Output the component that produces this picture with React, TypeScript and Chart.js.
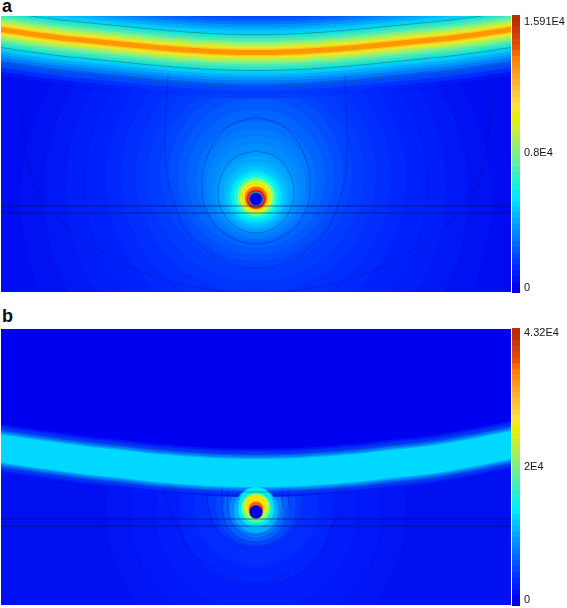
import { useEffect, useRef } from "react";
import { Chart, registerables } from "chart.js";

Chart.register(...registerables);

// Field coordinates: x runs 0..510 across the section, y runs 0..276 downward.
const xMax = 510;
const yMax = 276;

// Shared band sample stations
const bandX = [-10, 30, 60, 90, 120, 150, 180, 210, 240, 270, 300, 330, 360, 390, 420, 450, 480, 520];

// Panel a: high-field band
const bandCenterA = [12, 18, 22, 25, 28, 31, 33.5, 35.5, 36.5, 36.5, 35.5, 33.5, 31, 28, 25, 22, 18, 12];
const bandOffsetsA = [46, 42, 38, 34, 31, 28, 25, 22, 19, 16.5, 14, 11.5, 9.5, 7.5, 5.5, 4, 2.5];
const bandColorsA = ["rgba(0,40,250,0.35)", "rgba(0,56,255,0.7)", "#0048ff", "#0060ff", "#0078ff", "#0094ff", "#00b0ff", "#00ccf8", "#12dfdc", "#2ce4c8", "#50ecae", "#78f090", "#a0f06c", "#c8ee40", "#ecec20", "#ffc820", "#ff9800"];
const bandLineOffsetsA = [-18, 18, 33];

// Panel a: rings around the conductor
const glowRadiusA = [235, 212, 190, 170, 150, 135, 120, 108, 96, 87, 78, 69, 60, 55, 50, 45, 41, 37, 33, 30, 27, 25, 22, 19, 16.5, 14.5, 11.2, 9.5, 7.5, 6.3];
const glowCenterYA = [183, 178, 172, 167, 162, 160, 158, 157, 156, 158, 160, 162, 165, 168, 170, 173, 176, 177, 179, 180, 181, 181, 181, 181, 181, 181, 182, 183, 183, 183];
const glowColorsA = ["#0012f2", "#0018f5", "#001ef8", "#0022fa", "#0028fc", "#002efe", "#0034ff", "#003cff", "#0044ff", "#004eff", "#0058ff", "#0064ff", "#0070ff", "#007aff", "#0084ff", "#008eff", "#0098ff", "#00a6ff", "#00b4ff", "#00c4ff", "#00d4ff", "#00e8f8", "#18fcd8", "#70ff90", "#c0ff40", "#ffe000", "#ff7000", "#e02000", "#3090a0", "#0000e0"];
const glowFrontFromA = 30;

// Panel a: contour lines
const contour1XA = [255, 274, 288, 293, 288, 274, 255, 236, 222, 217, 222, 236, 255];
const contour1YA = [135, 140.5, 155.5, 176, 196.5, 211.5, 217, 211.5, 196.5, 176, 155.5, 140.5, 135];
const contour2XA = [255, 282, 302, 309, 302, 282, 255, 228, 208, 201, 208, 228, 255];
const contour2YA = [101, 110, 136, 172, 200, 220, 228, 220, 200, 172, 136, 110, 101];
const contour3XA = [167, 164, 172, 192, 256, 318, 339, 346, 344];
const contour3YA = [59, 141, 181, 224, 252, 224, 181, 141, 59];
const contour4XA = [21, 21, 29, 49, 99, 149, 199, 255, 311, 361, 411, 461, 481, 489, 489];
const contour4YA = [56, 94, 154, 194, 234, 259, 272, 276, 272, 259, 234, 194, 154, 94, 56];

// Panel b: band
const bandCenterB = [118, 124, 128, 132, 135, 138.5, 141, 143, 144, 144, 143, 141, 138.5, 135, 132, 127.5, 122, 114];
const bandOffsetsB = [24, 22, 19.5, 17.5, 15.5, 14];
const bandColorsB = ["#0018f6", "#0030ff", "#0050ff", "#0078ff", "#00a8ff", "#00d8ff"];
const bandLineOffsetsB = [-19, 19];

// Panel b: rings around the conductor
const glowRadiusB = [150, 125, 100, 77, 62, 48, 40, 33, 27, 22, 21, 18, 17, 15, 13, 10.5, 7.5, 6.7];
const glowCenterYB = [183, 183, 183, 179, 176, 171, 176, 180, 181, 182, 179, 180, 175, 179, 178, 176, 180, 183];
const glowColorsB = ["#0014f4", "#0018f8", "#001cfa", "#0024ff", "#002cff", "#0038ff", "#0048ff", "#0060ff", "#0084ff", "#00b0ff", "#00b0ff", "#00e8f0", "#00e8f0", "#50ff9c", "#b4ff40", "#ffe000", "#ff6000", "#0000e0"];
const glowFrontFromB = 9;

// Panel b: contour lines
const contour1XB = [227, 227, 234, 254, 274, 281, 281];
const contour1YB = [159, 178, 198, 206, 198, 178, 159];
const contour2XB = [221, 221, 230, 254, 278, 287, 287];
const contour2YB = [159, 178, 203, 213, 203, 178, 159];
const contour3XB = [207, 207, 219, 254, 289, 301, 301];
const contour3YB = [161, 178, 204, 218, 204, 178, 161];
const contour4XB = [162, 168, 179, 189, 254, 319, 329, 340, 346];
const contour4YB = [160, 180, 201, 224, 254, 224, 201, 180, 160];

// Horizontal interface lines
const interfaceY = [190, 197];

// Colour bars
const barColors = ["#0000e0", "#0006ea", "#0010f4", "#001cfa", "#0028ff", "#0038ff", "#0048ff", "#0058ff", "#0068ff", "#0078ff", "#0088ff", "#0098ff", "#00a8ff", "#00b8ff", "#00c8ff", "#00d8ff", "#00eaff", "#0cecea", "#18f0d8", "#28f0c8", "#38f0b8", "#4cf0a8", "#60f09a", "#72ef8a", "#84ee7c", "#96ee6a", "#a8ee58", "#baef44", "#ccf030", "#dcf018", "#e8f000", "#f4e820", "#ffe040", "#ffd43c", "#ffc838", "#ffbc34", "#ffb030", "#ffa424", "#ff9818", "#ff8c0c", "#ff8000", "#f46800", "#e85000", "#dc4808", "#d04010", "#c83808", "#c03000", "#bc2e00"];
const barLevelsA = [0, 330, 660, 990, 1330, 1660, 1990, 2320, 2650, 2980, 3310, 3650, 3980, 4310, 4640, 4970, 5300, 5640, 5970, 6300, 6630, 6960, 7290, 7620, 7950, 8290, 8620, 8950, 9280, 9610, 9940, 10280, 10600, 10940, 11270, 11600, 11930, 12260, 12590, 12930, 13260, 13590, 13920, 14250, 14580, 14920, 15250, 15580];
const barLevelsB = [0, 900, 1800, 2700, 3600, 4500, 5400, 6300, 7200, 8100, 9000, 9900, 10800, 11700, 12600, 13500, 14400, 15300, 16200, 17100, 18000, 18900, 19800, 20700, 21600, 22500, 23400, 24300, 25200, 26100, 27000, 27900, 28800, 29700, 30600, 31500, 32400, 33300, 34200, 35100, 36000, 36900, 37800, 38700, 39600, 40500, 41400, 42300];
const barMaxA = 15910;
const barMaxB = 43200;
const tickValuesA = [286, 8000, 15510];
const tickLabelsA = ["0", "0.8E4", "1.591E4"];
const tickValuesB = [932, 21600, 42420];
const tickLabelsB = ["0", "2E4", "4.32E4"];

type Field = {
  center: number[];
  offsets: number[];
  colors: string[];
  lineOffsets: number[];
  radius: number[];
  glowY: number[];
  glowColors: string[];
  frontFrom: number;
  contours: [number[], number[]][];
  lowerField?: string;
  upperField?: string;
};

const zip = (xs: number[], ys: number[]) => xs.map((x, i) => ({ x, y: ys[i] }));

function makeField(canvas: HTMLCanvasElement, f: Field) {
  const layers: any[] = [];
  const quiet = { type: "line", borderWidth: 0, pointRadius: 0, tension: 0.3 };
  const centerLine = bandX.map((x, i) => ({ x, y: f.center[i] }));
  const bubble = (i: number) => ({
    type: "bubble",
    data: [{ x: 255, y: f.glowY[i], r: f.radius[i] }],
    backgroundColor: f.glowColors[i],
    borderWidth: 0,
    hoverBorderWidth: 0,
  });
  if (f.lowerField) {
    layers.push({ ...quiet, data: centerLine, backgroundColor: f.lowerField, fill: "+1" });
    layers.push({ ...quiet, data: bandX.map((x) => ({ x, y: yMax + 10 })), fill: false });
  }
  f.radius.forEach((_, i) => {
    if (i < f.frontFrom) layers.push(bubble(i));
  });
  if (f.upperField) {
    layers.push({ ...quiet, data: centerLine, backgroundColor: f.upperField, fill: "+1" });
    layers.push({ ...quiet, data: bandX.map((x) => ({ x, y: -10 })), fill: false });
  }
  f.offsets.forEach((o, i) => {
    layers.push({
      ...quiet,
      data: bandX.map((x, k) => ({ x, y: f.center[k] - o })),
      backgroundColor: f.colors[i],
      fill: "+1",
    });
    layers.push({ ...quiet, data: bandX.map((x, k) => ({ x, y: f.center[k] + o })), fill: false });
  });
  f.radius.forEach((_, i) => {
    if (i >= f.frontFrom) layers.push(bubble(i));
  });
  f.lineOffsets.forEach((o) => {
    layers.push({
      type: "line",
      data: bandX.map((x, i) => ({ x, y: f.center[i] + o })),
      borderWidth: 1,
      borderColor: "rgba(10,60,120,0.4)",
      pointRadius: 0,
      tension: 0.3,
      fill: false,
    });
  });
  f.contours.forEach(([xs, ys]) => {
    layers.push({
      type: "line",
      data: zip(xs, ys),
      borderWidth: 1,
      borderColor: "rgba(0,10,140,0.3)",
      pointRadius: 0,
      tension: 0.4,
      fill: false,
    });
  });
  interfaceY.forEach((y) => {
    layers.push({
      type: "line",
      data: [{ x: 0, y }, { x: xMax, y }],
      borderWidth: 1,
      borderColor: "rgba(0,10,90,0.55)",
      pointRadius: 0,
      fill: false,
    });
  });
  layers.forEach((d, i) => {
    d.order = layers.length - i;
  });
  return new Chart(canvas, {
    type: "bubble",
    data: { datasets: layers },
    options: {
      animation: false,
      responsive: false,
      events: [],
      layout: { padding: 0, autoPadding: false },
      plugins: { legend: { display: false }, tooltip: { enabled: false } },
      scales: {
        x: { type: "linear", min: 0, max: xMax, display: false },
        y: { type: "linear", min: 0, max: yMax, reverse: true, display: false },
      },
    },
  } as any);
}

function makeBar(canvas: HTMLCanvasElement, levels: number[], max: number, tickValues: number[], tickLabels: string[]) {
  return new Chart(canvas, {
    type: "bar",
    data: {
      labels: [""],
      datasets: levels.map((lo, i) => ({
        data: [[lo, max]],
        backgroundColor: barColors[i],
        borderWidth: 0,
        barPercentage: 1,
        categoryPercentage: 1,
        grouped: false,
        order: levels.length - i,
      })),
    },
    options: {
      animation: false,
      responsive: false,
      events: [],
      layout: { padding: 0 },
      plugins: { legend: { display: false }, tooltip: { enabled: false } },
      scales: {
        x: { display: false },
        y: {
          position: "right",
          min: 0,
          max,
          grid: { display: false, drawTicks: false },
          border: { display: false },
          afterFit: (s: any) => {
            s.width = 47;
            s.paddingTop = 0;
            s.paddingBottom = 0;
          },
          afterBuildTicks: (s: any) => {
            s.ticks = tickValues.map((value) => ({ value }));
          },
          ticks: {
            autoSkip: false,
            padding: 4,
            maxRotation: 0,
            color: "#14141e",
            font: { family: "'Liberation Sans'", size: 11 },
            callback: (v: any) => tickLabels[tickValues.indexOf(v)],
          },
        },
      },
    },
  } as any);
}

const abs = (left: number, top: number) => ({ position: "absolute" as const, left, top, display: "block" });
const letter = (left: number, top: number) => ({
  position: "absolute" as const,
  left,
  top,
  font: "bold 18px/18px 'Liberation Sans'",
  color: "#0c0c18",
});

export default function App() {
  const fieldA = useRef<HTMLCanvasElement>(null);
  const fieldB = useRef<HTMLCanvasElement>(null);
  const barA = useRef<HTMLCanvasElement>(null);
  const barB = useRef<HTMLCanvasElement>(null);

  useEffect(() => {
    const charts = [
      makeField(fieldA.current!, {
        center: bandCenterA,
        offsets: bandOffsetsA,
        colors: bandColorsA,
        lineOffsets: bandLineOffsetsA,
        radius: glowRadiusA,
        glowY: glowCenterYA,
        glowColors: glowColorsA,
        frontFrom: glowFrontFromA,
        contours: [[contour1XA, contour1YA], [contour2XA, contour2YA], [contour3XA, contour3YA], [contour4XA, contour4YA]],
      }),
      makeField(fieldB.current!, {
        center: bandCenterB,
        offsets: bandOffsetsB,
        colors: bandColorsB,
        lineOffsets: bandLineOffsetsB,
        radius: glowRadiusB,
        glowY: glowCenterYB,
        glowColors: glowColorsB,
        frontFrom: glowFrontFromB,
        contours: [[contour1XB, contour1YB], [contour2XB, contour2YB], [contour3XB, contour3YB], [contour4XB, contour4YB]],
        lowerField: "#0010f0",
        upperField: "#0000f0",
      }),
      makeBar(barA.current!, barLevelsA, barMaxA, tickValuesA, tickLabelsA),
      makeBar(barB.current!, barLevelsB, barMaxB, tickValuesB, tickLabelsB),
    ];
    return () => {
      charts.forEach((c) => c.destroy());
    };
  }, []);

  return (
    <div style={{ position: "fixed", left: 0, top: 0, width: 567, height: 608, background: "#fff", overflow: "hidden" }}>
      <div style={letter(2, -3)}>a</div>
      <canvas ref={fieldA} width={510} height={276} style={{ ...abs(1, 16), background: "#000cf0" }} />
      <canvas ref={barA} width={55} height={278} style={abs(512, 15)} />
      <div style={letter(2, 307)}>b</div>
      <canvas ref={fieldB} width={510} height={276} style={{ ...abs(1, 329), background: "#0000f0" }} />
      <canvas ref={barB} width={55} height={278} style={abs(512, 328)} />
    </div>
  );
}
